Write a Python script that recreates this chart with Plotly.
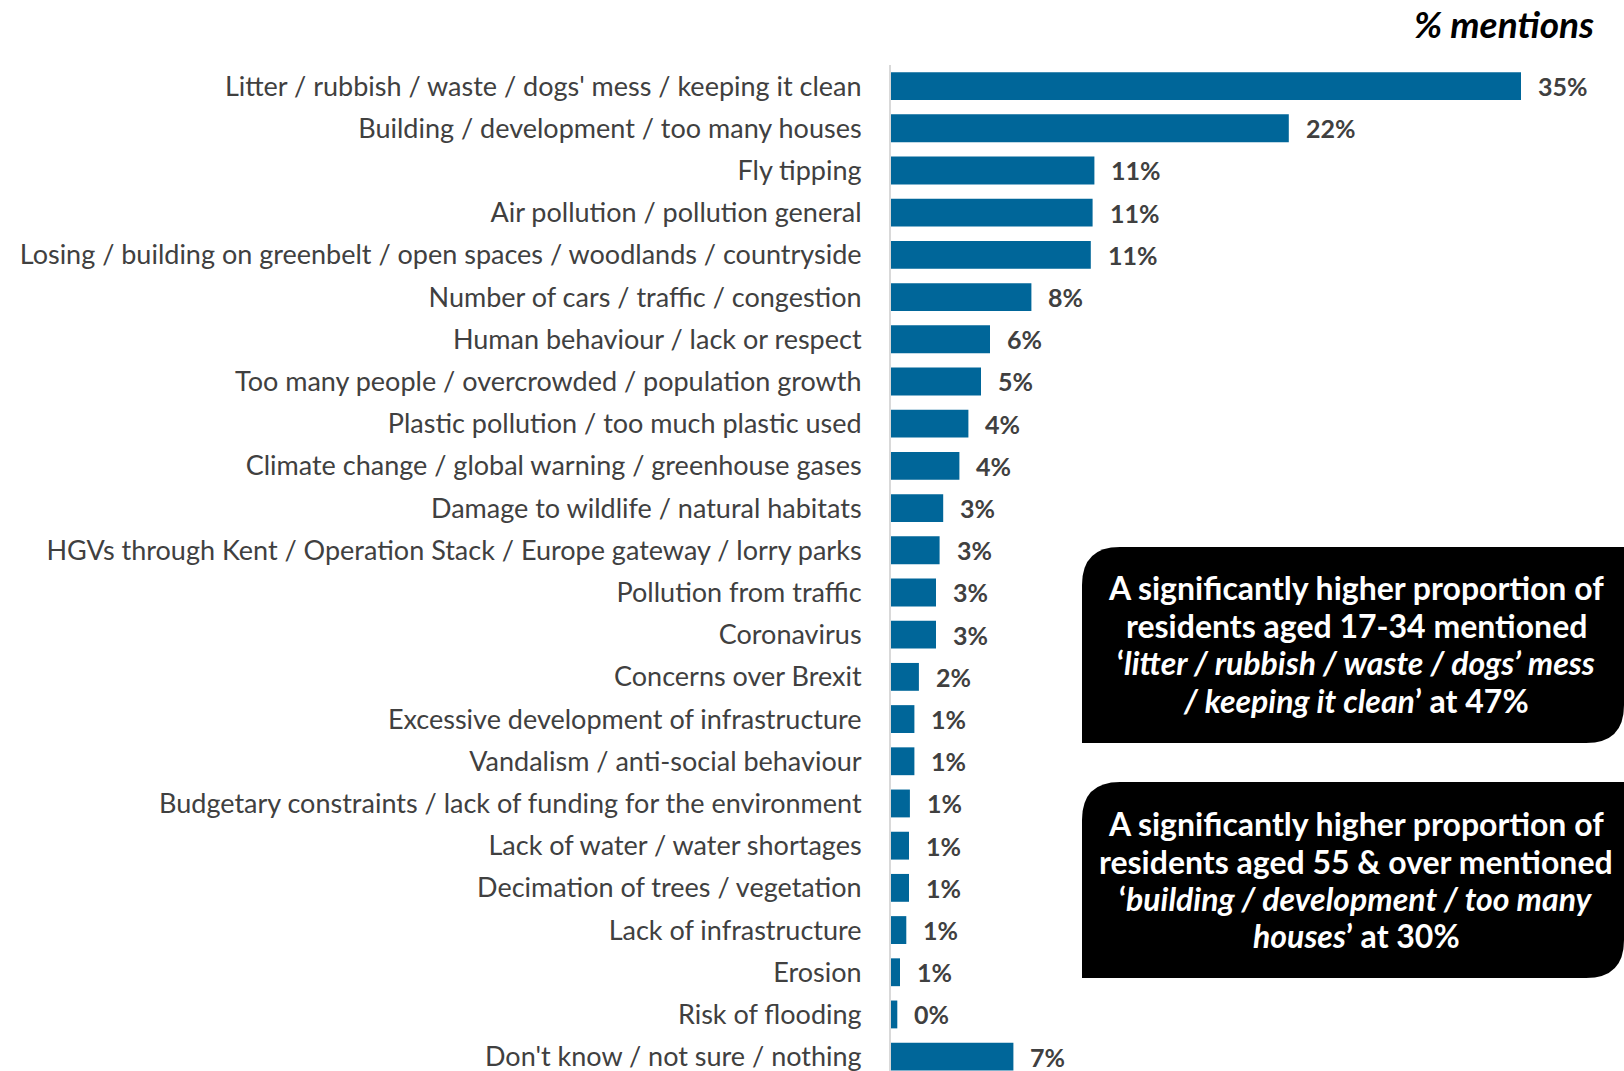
import plotly.graph_objects as go

categories = [
    "Litter / rubbish / waste / dogs' mess / keeping it clean",
    "Building / development / too many houses",
    "Fly tipping",
    "Air pollution / pollution general",
    "Losing / building on greenbelt / open spaces / woodlands / countryside",
    "Number of cars / traffic / congestion",
    "Human behaviour / lack or respect",
    "Too many people / overcrowded / population growth",
    "Plastic pollution / too much plastic used",
    "Climate change / global warning / greenhouse gases",
    "Damage to wildlife / natural habitats",
    "HGVs through Kent / Operation Stack / Europe gateway / lorry parks",
    "Pollution from traffic",
    "Coronavirus",
    "Concerns over Brexit",
    "Excessive development of infrastructure",
    "Vandalism / anti-social behaviour",
    "Budgetary constraints / lack of funding for the environment",
    "Lack of water / water shortages",
    "Decimation of trees / vegetation",
    "Lack of infrastructure",
    "Erosion",
    "Risk of flooding",
    "Don't know / not sure / nothing",
]
values = [35.0, 22.1, 11.3, 11.2, 11.1, 7.8, 5.5, 5.0, 4.3, 3.8, 2.9, 2.7, 2.5, 2.5,
          1.55, 1.3, 1.3, 1.05, 1.0, 1.0, 0.85, 0.5, 0.35, 6.8]
value_labels = ["35%", "22%", "11%", "11%", "11%", "8%", "6%", "5%", "4%", "4%", "3%", "3%",
                "3%", "3%", "2%", "1%", "1%", "1%", "1%", "1%", "1%", "1%", "0%", "7%"]

callout_1 = [
    "A significantly higher proportion of",
    "residents aged 17-34 mentioned",
    "‘<i>litter / rubbish / waste / dogs’ mess</i>",
    "<i>/ keeping it clean</i>’ at 47%",
]
callout_2 = [
    "A significantly higher proportion of",
    "residents aged 55 &amp; over mentioned",
    "‘<i>building / development / too many</i>",
    "<i>houses</i>’ at 30%",
]

W, H = 1624, 1071
L, T = 891, 65
PW, PH = W - L, H - T

FONT = "Lato"
BAR = "#006699"
GREY = "#404040"


def px(x):
    return (x - L) / PW


def py(y):
    return (H - y) / PH


fig = go.Figure()
fig.add_trace(go.Bar(
    x=values, y=categories, orientation="h",
    marker=dict(color=BAR, line=dict(width=0)),
    hoverinfo="skip",
))

for c, v, lab in zip(categories, values, value_labels):
    fig.add_annotation(x=v, y=c, xref="x", yref="y", text=lab, showarrow=False,
                       xanchor="left", yanchor="middle", xshift=15,
                       font=dict(family=FONT, size=25, color=GREY, weight="bold"))


def box_path(x0, y0, x1, y1, r):
    pts = [
        ("M", [(x0, y0 + r)]),
        ("Q", [(x0, y0), (x0 + r, y0)]),
        ("L", [(x1, y0)]),
        ("L", [(x1, y1 - r)]),
        ("Q", [(x1, y1), (x1 - r, y1)]),
        ("L", [(x0, y1)]),
    ]
    s = ""
    for cmd, ps in pts:
        s += cmd + " " + " ".join(f"{px(a):.5f},{py(b):.5f}" for a, b in ps) + " "
    return s + "Z"


boxes = [
    (547, 743, callout_1, [587, 625, 662, 700]),
    (782, 978, callout_2, [823, 861, 898, 935]),
]
for y0, y1, lines, ys in boxes:
    fig.add_shape(type="path", path=box_path(1082, y0, 1624, y1, 38), xref="paper", yref="paper",
                  fillcolor="black", line=dict(width=0), layer="above")
    for line, yy in zip(lines, ys):
        fig.add_annotation(x=px(1356), y=py(yy), xref="paper", yref="paper",
                           text=line, showarrow=False, xanchor="center", yanchor="middle",
                           font=dict(family=FONT, size=32, color="white", weight="bold"))

fig.add_annotation(x=px(1596), y=py(23), xref="paper", yref="paper", text="<i>% mentions</i>",
                   showarrow=False, xanchor="right", yanchor="middle",
                   font=dict(family=FONT, size=37, color="black", weight="bold"))

fig.update_layout(
    width=W, height=H,
    margin=dict(l=L, r=0, t=T, b=0),
    plot_bgcolor="white", paper_bgcolor="white",
    showlegend=False,
    bargap=0.34,
    xaxis=dict(visible=False, range=[0, PW / 18.0], fixedrange=True),
    yaxis=dict(type="category", categoryorder="array", categoryarray=categories,
               range=[23.34, -0.5], autorange=False,
               showline=True, linecolor="#d9d9d9", linewidth=2,
               ticks="", showgrid=False, ticklabelstandoff=22,
               tickfont=dict(family=FONT, size=27, color=GREY)),
)

fig.write_html("out.html")
